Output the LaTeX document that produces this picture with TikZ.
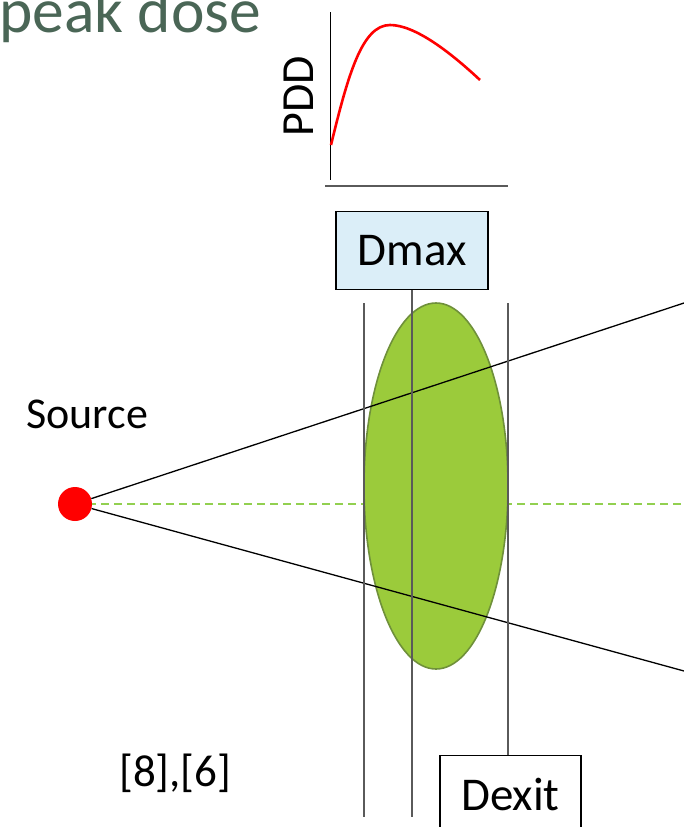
\documentclass[tikz,border=0pt]{standalone}
\usepackage{fontspec}
\setmainfont{Carlito}
\definecolor{titlegreen}{HTML}{4A6656}
\definecolor{boxblue}{HTML}{DBEEF8}
\definecolor{organfill}{HTML}{9BCB3B}
\definecolor{organedge}{HTML}{6F903A}
\definecolor{axisline}{HTML}{5A5A5A}
\definecolor{dashgreen}{HTML}{92D050}
\tikzset{
  txt/.style={inner sep=0pt, anchor=base west, font=\fontsize{44}{50}\selectfont},
  labelbox/.style={draw=black, line width=1.4pt, inner sep=0pt, anchor=north, font=\fontsize{47}{52}\selectfont},
  guide/.style={draw=axisline, line width=1.4pt},
  beam/.style={draw=black, line width=1.3pt},
}
\begin{document}
\begin{tikzpicture}[x=1pt,y=-1pt]
\clip (0,0) rectangle (684,827);
% title
\node[txt, font=\fontsize{63.5}{70}\selectfont, text=titlegreen] (title) at (-1,32) {peak dose};
% PDD graph
\draw[black, line width=1.3pt] (330.5,12) -- (330.5,180);
\draw[axisline, line width=2pt] (325,186) -- (508,186);
\draw[red, line width=2.6pt] (331,145) .. controls (348,75) and (362,25) .. (390,25)
   .. controls (415,25) and (450,52) .. (480,80);
\node[inner sep=0pt, rotate=90, anchor=base, font=\fontsize{46}{50}\selectfont] (pdd) at (313,96) {PDD};
% centre line (behind organ)
\coordinate (src0) at (75,504);
\coordinate (axisend) at (684,504);
\draw[dashgreen, line width=1.2pt, dash pattern=on 8pt off 5pt] (src0) -- (axisend);
% organ
\fill[organfill, draw=organedge, line width=1.6pt] (436,486) ellipse [x radius=72, y radius=183];
% source
\node[circle, fill=red, minimum width=32pt, minimum height=34pt, inner sep=0pt] (src) at (75,504) {};
\coordinate (upend) at (684,303);
\coordinate (loend) at (684,671);
\draw[beam] (src) -- (upend);
\draw[beam] (src) -- (loend);
% boxes
\node[labelbox, fill=boxblue, minimum width=152pt, text height=54pt, text depth=24pt] (dmax) at (412,211) {Dmax};
\node[labelbox, fill=white, minimum width=141pt, text height=55pt, text depth=40pt] (dexit) at (510.5,755) {Dexit};
% guide lines
\coordinate (l1top) at (364,303);
\coordinate (l1bot) at (364,817);
\coordinate (l2bot) at (412,817);
\coordinate (l3top) at (508,303);
\draw[guide] (l1top) -- (l1bot);
\draw[guide] (dmax.south) -- (l2bot);
\draw[guide] (l3top) -- (l3top |- dexit.north);
% texts
\node[txt] (source) at (26,428) {Source};
\node[txt, font=\fontsize{45}{50}\selectfont] (refs) at (119,786) {[8],[6]};
\end{tikzpicture}
\end{document}
